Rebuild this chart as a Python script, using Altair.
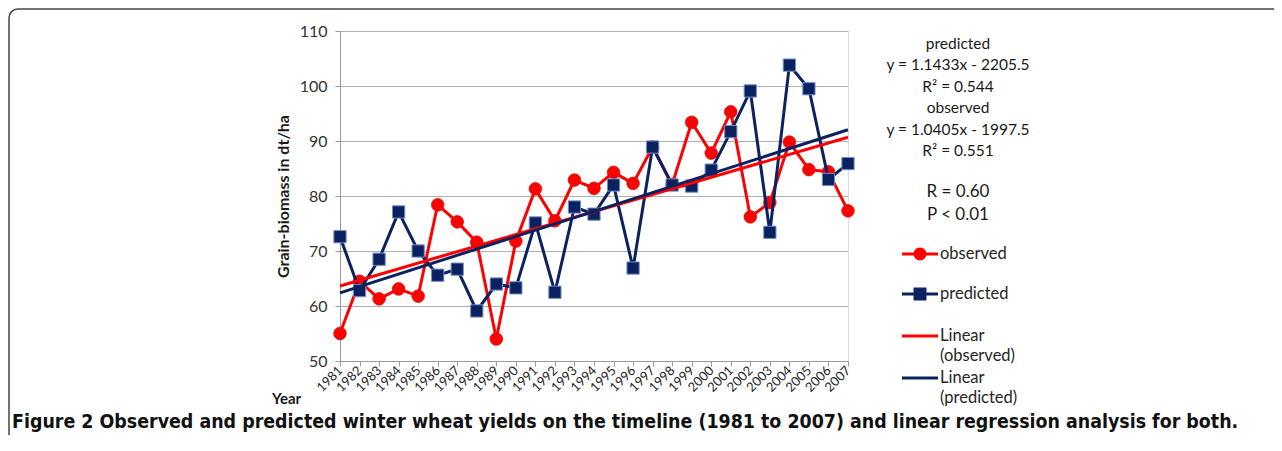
import altair as alt
import pandas as pd

# ---------------- data ----------------
years = list(range(1981, 2008))
observed = [55.0, 64.5, 61.3, 63.1, 61.8, 78.4, 75.3, 71.6, 54.0, 71.8,
            81.3, 75.5, 82.9, 81.4, 84.3, 82.3, 88.9, 82.1, 93.4, 87.8,
            95.3, 76.2, 78.8, 89.8, 84.8, 84.4, 77.3]
predicted = [72.6, 62.8, 68.5, 77.1, 70.0, 65.6, 66.7, 59.1, 64.0, 63.3,
             75.1, 62.5, 78.0, 76.7, 82.0, 66.9, 88.9, 82.0, 81.8, 84.7,
             91.7, 99.1, 73.4, 103.8, 99.5, 83.0, 85.9]

y_ticks = [50, 60, 70, 80, 90, 100, 110]
legend_names = ["observed", "predicted", "Linear (observed)", "Linear (predicted)"]
annotation_lines = ["predicted", "y = 1.1433x - 2205.5", "R\u00b2 = 0.544",
                    "observed", "y = 1.0405x - 1997.5", "R\u00b2 = 0.551"]
stat_lines = ["R = 0.60", "P < 0.01"]
caption = ("Figure 2 Observed and predicted winter wheat yields on the timeline "
           "(1981 to 2007) and linear regression analysis for both.")

# ---------------- style ----------------
RED = "#ff0000"
NAVY = "#0c2260"
SQ_EDGE = "#6f8fc8"
FONT = "Lato"
CAP_FONT = "'Liberation Sans Narrow', 'DejaVu Sans Condensed', sans-serif"

DY = -0.28  # legend glyph raised to the middle of the label's first line


def f(v):
    return "%.3f" % v


LINE_P = "M-1,%sH1V%sH-1Z" % (f(DY - 0.083), f(DY + 0.083))
CIRC_P = "M0.36,%sA0.36,0.36 0 1 1 -0.36,%sA0.36,0.36 0 1 1 0.36,%sZ" % (f(DY), f(DY), f(DY))
SQR_P = "M-0.36,%sH0.36V%sH-0.36Z" % (f(DY - 0.36), f(DY + 0.36))


def spacer(y):
    # zero-area sub-path: only widens the legend entry's bounds downwards
    return "M0,%sL0.0001,%sZ" % (f(y), f(y))


legend_paths = [LINE_P + CIRC_P + spacer(1.222), LINE_P + SQR_P + spacer(1.333),
                LINE_P, LINE_P]
legend_colors = [RED, NAVY, RED, NAVY]

df_obs = pd.DataFrame({"year": years, "value": observed})
df_pred = pd.DataFrame({"year": years, "value": predicted})
one = pd.DataFrame({"a": [0]})

x_enc = alt.X(
    "year:Q",
    scale=alt.Scale(domain=[1981, 2007], nice=False, zero=False),
    axis=alt.Axis(
        values=years, format="d", labelAngle=-45, labelAlign="right",
        labelBaseline="middle", labelPadding=2, labelFontSize=13,
        labelOverlap=False, labelFlush=False, labelBound=False,
        labelColor="#262626", labelFont=FONT, grid=False,
        domainColor="#9a9a9a", tickColor="#9a9a9a", tickSize=5,
        title="Year", titleX=-54, titleY=37, titleAlign="center",
        titleBaseline="middle", titleAngle=0, titleFontSize=15,
        titleFont=FONT, titleFontWeight="bold", titleColor="#1a1a1a",
    ),
)
y_enc = alt.Y(
    "value:Q",
    scale=alt.Scale(domain=[50, 110], nice=False, zero=False),
    axis=alt.Axis(
        values=y_ticks, labelFontSize=16, labelColor="#333333", labelFont=FONT,
        labelPadding=8, grid=True, gridColor="#b0b0b0", domainColor="#9a9a9a",
        tickColor="#9a9a9a", tickSize=5,
        title="Grain-biomass in dt/ha", titleX=-57, titleY=165,
        titleAlign="center", titleBaseline="middle", titleFontSize=16,
        titleFont=FONT, titleFontWeight="bold", titleColor="#1a1a1a",
    ),
)

border = alt.Chart(one).mark_rect(
    fill=None, stroke="#444444", strokeWidth=1.5, cornerRadius=9
).encode(x=alt.value(-331), x2=alt.value(950), y=alt.value(-22), y2=alt.value(440))

obs_line = alt.Chart(df_obs).mark_line(color=RED, strokeWidth=3).encode(x=x_enc, y=y_enc)
obs_pts = alt.Chart(df_obs).mark_point(
    shape="circle", filled=True, size=160, color=RED, opacity=1,
    stroke="#d41515", strokeWidth=0.8
).encode(x=x_enc, y=y_enc)
pred_line = alt.Chart(df_pred).mark_line(color=NAVY, strokeWidth=3).encode(x=x_enc, y=y_enc)
pred_pts = alt.Chart(df_pred).mark_point(
    shape="square", filled=True, size=150, fill=NAVY, opacity=1,
    stroke=SQ_EDGE, strokeWidth=1
).encode(x=x_enc, y=y_enc)

trend_obs = alt.Chart(df_obs).transform_regression("year", "value").mark_line(
    color=RED, strokeWidth=3).encode(x=x_enc, y=y_enc)
trend_pred = alt.Chart(df_pred).transform_regression("year", "value").mark_line(
    color=NAVY, strokeWidth=3).encode(x=x_enc, y=y_enc)

leg_kw = dict(
    orient="none", legendX=562, legendY=210, title=None, padding=0,
    rowPadding=0, labelOffset=2, symbolSize=1296, symbolStrokeWidth=0,
    labelFont=FONT, labelFontSize=16.5, labelColor="#262626", labelLimit=300,
    labelBaseline="alphabetic", labelExpr="split(datum.label, ' ')",
    direction="vertical",
)
legend_layer = alt.Chart(pd.DataFrame({"series": legend_names})).mark_point(
    filled=True, clip=True, opacity=1
).encode(
    x=alt.value(-2000), y=alt.value(-2000),
    color=alt.Color("series:N", sort=legend_names,
                    scale=alt.Scale(domain=legend_names, range=legend_colors),
                    legend=alt.Legend(**leg_kw)),
    shape=alt.Shape("series:N", sort=legend_names,
                    scale=alt.Scale(domain=legend_names, range=legend_paths),
                    legend=alt.Legend(**leg_kw)),
)

ann = alt.Chart(one).mark_text(
    align="center", baseline="top", font=FONT, fontSize=15.5, lineHeight=21.4,
    color="#1a1a1a"
).encode(x=alt.value(618), y=alt.value(6), text=alt.value(annotation_lines))
stats = alt.Chart(one).mark_text(
    align="center", baseline="top", font=FONT, fontSize=17, lineHeight=22.7,
    color="#1a1a1a"
).encode(x=alt.value(618), y=alt.value(153), text=alt.value(stat_lines))
cap = alt.Chart(one).mark_text(
    align="left", baseline="middle", font=CAP_FONT, fontSize=19.4,
    fontWeight="bold", color="#111111"
).encode(x=alt.value(-328), y=alt.value(391), text=alt.value(caption))

chart = alt.layer(
    border, obs_line, obs_pts, pred_line, pred_pts, trend_obs, trend_pred,
    legend_layer, ann, stats, cap
).properties(
    width=508, height=330,
    padding={"left": 332, "top": 23, "right": 426, "bottom": 74},
    autosize=alt.AutoSizeParams(type="none"),
    background="white",
).configure_view(stroke=None).configure_axisX(labelOverlap=False).configure(
    style={"guide-label": {"lineHeight": 20}}
)

chart.save("out.html", embed_options={"renderer": "svg", "actions": False})
